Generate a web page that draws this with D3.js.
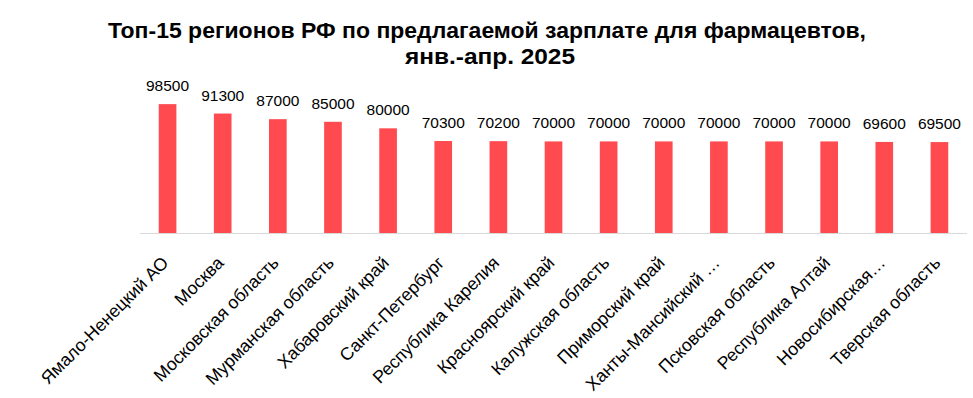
<!DOCTYPE html>
<html><head><meta charset="utf-8">
<script src="https://cdn.jsdelivr.net/npm/d3@7"></script>
<style>body{margin:0;background:#fff}</style>
</head><body>
<svg id="c" width="973" height="398"></svg>
<script>
const categories = ["Ямало-Ненецкий АО","Москва","Московская область","Мурманская область","Хабаровский край","Санкт-Петербург","Республика Карелия","Красноярский край","Калужская область","Приморский край","Ханты-Мансийский …","Псковская область","Республика Алтай","Новосибирская…","Тверская область"];
const values = [98500,91300,87000,85000,80000,70300,70200,70000,70000,70000,70000,70000,70000,69600,69500];
const titleLines = ["Топ-15 регионов РФ по предлагаемой зарплате для фармацевтов,","янв.-апр. 2025"];

const svg = d3.select("#c");
const x = d3.scaleBand().domain(categories).range([140,967]).paddingInner(0.68).paddingOuter(0.34);
const y = d3.scaleLinear().domain([0,120000]).range([233,76]);

const titleLayout = [{x:487, y:38, w:758}, {x:490, y:64, w:170}];
svg.append("g").selectAll("text").data(titleLines).join("text")
  .attr("text-anchor","middle").attr("x",(d,i)=>titleLayout[i].x).attr("y",(d,i)=>titleLayout[i].y)
  .attr("textLength",(d,i)=>titleLayout[i].w).attr("lengthAdjust","spacingAndGlyphs")
  .attr("font-family","'Liberation Sans',Arial,sans-serif")
  .attr("font-weight","bold").attr("font-size",21.5).attr("fill","#000").text(d=>d);

svg.append("g").selectAll("rect").data(values).join("rect")
  .attr("x",(d,i)=>x(categories[i])).attr("width",x.bandwidth())
  .attr("y",d=>y(d)).attr("height",d=>y(0)-y(d)).attr("fill","#FF4A4F");

svg.append("line").attr("x1",140).attr("x2",967).attr("y1",233.5).attr("y2",233.5).attr("stroke","#D9D9D9").attr("stroke-width",1);

svg.append("g").selectAll("text").data(values).join("text")
  .attr("x",(d,i)=>x(categories[i])+x.bandwidth()/2).attr("y",d=>y(d)-13)
  .attr("text-anchor","middle").attr("font-family","'Liberation Sans',Arial,sans-serif").attr("font-size",15.5).attr("fill","#000")
  .text(d=>d);

const ax = d3.axisBottom(x).tickSize(0).tickPadding(0);
const g = svg.append("g").attr("transform","translate(0,233)").call(ax);
g.select(".domain").remove();
g.selectAll("text").attr("font-family","'Liberation Sans',Arial,sans-serif").attr("font-size",17.75).attr("fill","#000")
  .attr("text-anchor","end").attr("dy",null).attr("y",0)
  .attr("transform","translate(2,31) rotate(-45)");
</script>
</body></html>
